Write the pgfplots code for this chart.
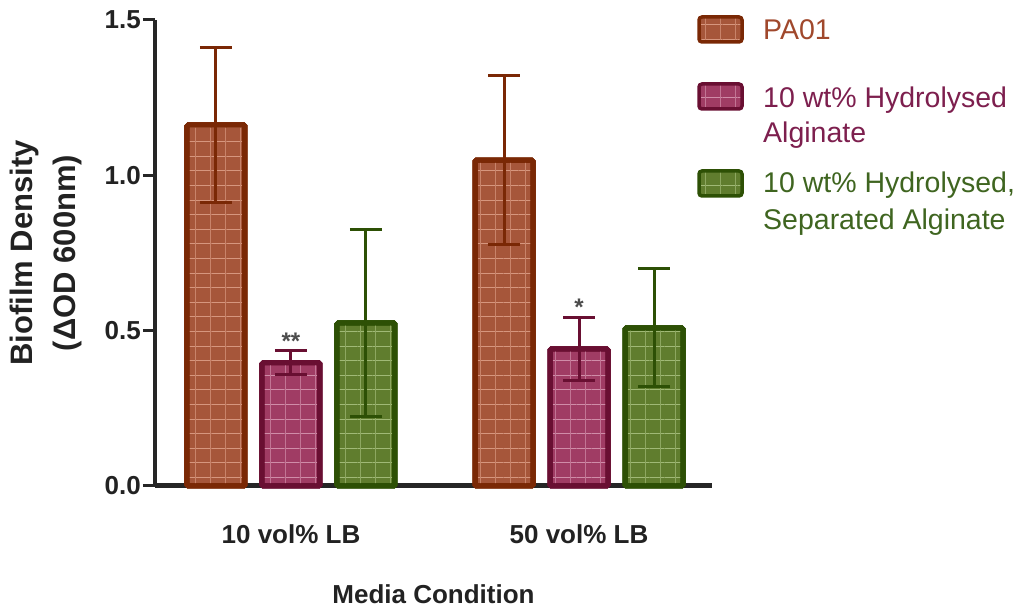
\documentclass[border=0pt]{standalone}
\usepackage{fontspec}
\setmainfont{Liberation Sans}
\usepackage{pgfplots}
\pgfplotsset{compat=1.18}
\usetikzlibrary{patterns.meta}
\definecolor{cAf}{RGB}{166,86,58}
\definecolor{cAd}{RGB}{122,40,5}
\definecolor{cAl}{RGB}{214,150,126}
\definecolor{cAt}{RGB}{160,72,44}
\definecolor{cBf}{RGB}{160,60,100}
\definecolor{cBd}{RGB}{105,15,50}
\definecolor{cBl}{RGB}{208,140,168}
\definecolor{cBt}{RGB}{125,31,78}
\definecolor{cCf}{RGB}{96,125,46}
\definecolor{cCd}{RGB}{45,80,5}
\definecolor{cCl}{RGB}{160,185,118}
\definecolor{cCt}{RGB}{63,101,32}
\definecolor{txt}{RGB}{34,34,34}
\tikzset{
  gridbar/.style n args={3}{
    preaction={fill=#1},
    preaction={pattern={Lines[angle=0,distance=14.6pt,line width=1pt]}, pattern color=#3},
    preaction={pattern={Lines[angle=90,distance=15pt,line width=0.6pt]}, pattern color=#3!70!#1},
    draw=#2, line width=5pt, rounded corners=1.5pt},
}
\pgfplotstableread{
x   y     e
1   1.162 0.250
2   1.049 0.272
}\tblA
\pgfplotstableread{
x   y     e
1   0.397 0.039
2   0.441 0.102
}\tblB
\pgfplotstableread{
x   y     e
1   0.525 0.300
2   0.509 0.190
}\tblC
\begin{document}
\begin{tikzpicture}
\useasboundingbox (0,0) rectangle (1034pt,609pt);
\begin{axis}[
  at={(155pt,123pt)}, anchor=south west,
  scale only axis, width=557pt, height=466pt,
  xmin=0.5278, xmax=2.4618, ymin=0, ymax=1.5,
  axis x line*=bottom, axis y line*=left,
  x axis line style={line width=5pt, color=black!85},
  y axis line style={line width=4pt, color=black!85},
  ytick={0,0.5,1,1.5},
  xtick={1,2}, xticklabels={10 vol\% LB, 50 vol\% LB},
  x tick style={draw=none},
  y tick style={line width=3pt, color=black!85},
  tick align=outside, major tick length=12pt,
  /pgf/number format/assume math mode=true,
  yticklabel style={/pgf/number format/.cd, fixed, fixed zerofill, precision=1, /tikz/.cd,
     font=\fontsize{26}{30}\selectfont\bfseries, text=txt, inner sep=2pt},
  xticklabel style={font=\fontsize{26}{30}\selectfont\bfseries, text=txt, anchor=base, yshift=-46pt},
  xlabel={Media Condition},
  xlabel style={font=\fontsize{26}{30}\selectfont\bfseries, text=txt, at={(axis description cs:0.5,-0.2532)}, anchor=base},
  ylabel={Biofilm Density\\(ΔOD 600nm)},
  ylabel style={font=\fontsize{31}{43}\selectfont\bfseries, text=txt, align=center, at={(axis description cs:-0.196,0.5)}, anchor=center},
  ybar, bar width=58pt,
  clip=false,
]
\addplot[gridbar={cAf}{cAd}{cAl}, bar shift=-75pt,
  error bars/.cd, y dir=both, y explicit,
  error bar style={line width=3pt, color=cAd, rounded corners=0pt},
  error mark options={rotate=90, mark size=16pt, line width=3pt, color=cAd}]
  table[x=x, y=y, y error=e] {\tblA};
\addplot[gridbar={cBf}{cBd}{cBl}, bar shift=0pt,
  error bars/.cd, y dir=both, y explicit,
  error bar style={line width=3pt, color=cBd, rounded corners=0pt},
  error mark options={rotate=90, mark size=16pt, line width=3pt, color=cBd}]
  table[x=x, y=y, y error=e] {\tblB};
\addplot[gridbar={cCf}{cCd}{cCl}, bar shift=75pt,
  error bars/.cd, y dir=both, y explicit,
  error bar style={line width=3pt, color=cCd, rounded corners=0pt},
  error mark options={rotate=90, mark size=16pt, line width=3pt, color=cCd}]
  table[x=x, y=y, y error=e] {\tblC};
\node[anchor=base, font=\fontsize{24}{26}\selectfont\bfseries, text=black!70] at (axis cs:1,0.44) {**};
\node[anchor=base, font=\fontsize{24}{26}\selectfont\bfseries, text=black!70] at (axis cs:2,0.55) {*};
\end{axis}
% legend
\path[gridbar={cAf}{cAd}{cAl}, line width=3.5pt, rounded corners=3pt] (699pt,567pt) rectangle (742pt,592pt);
\path[gridbar={cBf}{cBd}{cBl}, line width=3.5pt, rounded corners=3pt] (699pt,500pt) rectangle (742pt,525pt);
\path[gridbar={cCf}{cCd}{cCl}, line width=3.5pt, rounded corners=3pt] (699pt,413pt) rectangle (742pt,438pt);
\begin{scope}[every node/.style={anchor=base west, inner sep=0pt, font=\fontsize{28.5}{34}\selectfont}]
\node[text=cAt] at (763pt,569pt) {PA01};
\node[text=cBt] at (763pt,501pt) {10 wt\% Hydrolysed};
\node[text=cBt] at (763pt,466pt) {Alginate};
\node[text=cCt] at (763pt,416pt) {10 wt\% Hydrolysed,};
\node[text=cCt] at (763pt,379pt) {Separated Alginate};
\end{scope}
\end{tikzpicture}
\end{document}
